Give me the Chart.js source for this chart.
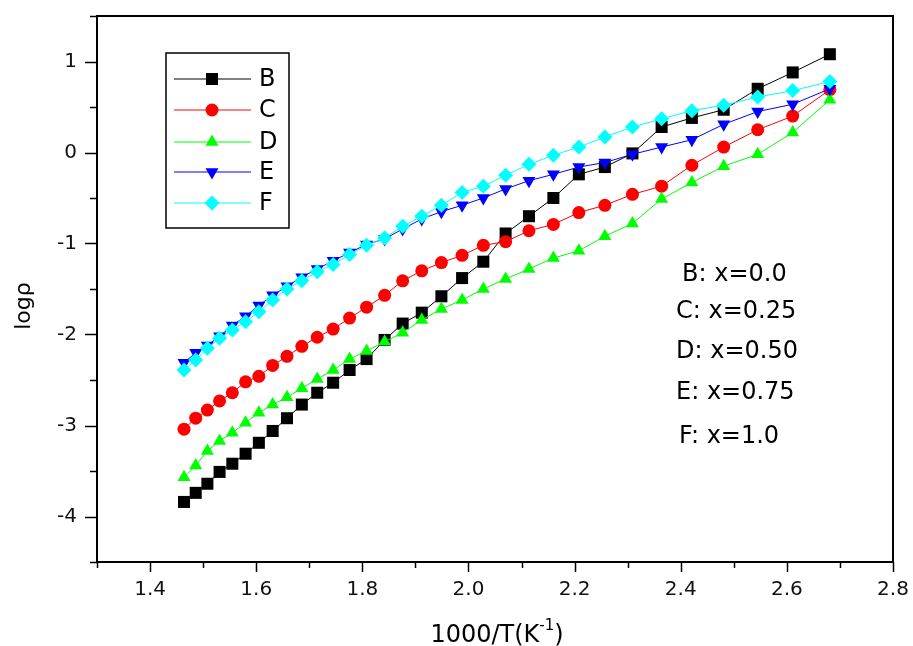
<!DOCTYPE html>
<html>
<head>
<meta charset="utf-8">
<script src="https://cdn.jsdelivr.net/npm/chart.js@4.4.0/dist/chart.umd.min.js"></script>
<style>
  html, body { margin: 0; padding: 0; background: #fff; }
  #box { width: 913px; height: 646px; }
</style>
</head>
<body>
<div id="box"><canvas id="grafico"></canvas></div>
<script>
// ---------- DADOS ----------
const invT = [1.464, 1.486, 1.508, 1.531, 1.555, 1.580, 1.605, 1.631, 1.658, 1.686, 1.715,
              1.745, 1.776, 1.808, 1.842, 1.876, 1.912, 1.949, 1.988, 2.028, 2.070, 2.114,
              2.160, 2.208, 2.257, 2.309, 2.364, 2.421, 2.481, 2.545, 2.611, 2.681];

const serieB = [-3.84, -3.74, -3.64, -3.51, -3.42, -3.31, -3.19, -3.06, -2.92, -2.77, -2.64,
                -2.53, -2.39, -2.27, -2.06, -1.88, -1.76, -1.58, -1.38, -1.20, -0.89, -0.70,
                -0.50, -0.24, -0.16, -0.01, 0.28, 0.38, 0.47, 0.70, 0.88, 1.08];
const serieC = [-3.04, -2.92, -2.83, -2.73, -2.64, -2.52, -2.46, -2.34, -2.24, -2.13, -2.03,
                -1.94, -1.82, -1.70, -1.57, -1.41, -1.30, -1.21, -1.13, -1.02, -0.98, -0.86,
                -0.79, -0.66, -0.58, -0.46, -0.37, -0.14, 0.06, 0.25, 0.40, 0.69];
const serieD = [-3.57, -3.44, -3.28, -3.17, -3.08, -2.97, -2.86, -2.77, -2.69, -2.59, -2.49,
                -2.39, -2.27, -2.18, -2.08, -1.98, -1.84, -1.72, -1.62, -1.50, -1.39, -1.28,
                -1.16, -1.08, -0.92, -0.78, -0.51, -0.33, -0.15, -0.02, 0.22, 0.58];
const serieE = [-2.31, -2.20, -2.12, -2.02, -1.90, -1.80, -1.68, -1.57, -1.47, -1.37, -1.28,
                -1.19, -1.10, -1.01, -0.95, -0.84, -0.73, -0.65, -0.58, -0.50, -0.40, -0.31,
                -0.24, -0.16, -0.11, -0.02, 0.06, 0.14, 0.31, 0.45, 0.53, 0.70];
const serieF = [-2.39, -2.28, -2.15, -2.04, -1.95, -1.86, -1.75, -1.62, -1.50, -1.41, -1.31,
                -1.23, -1.12, -1.02, -0.94, -0.81, -0.70, -0.58, -0.44, -0.37, -0.25, -0.13,
                -0.03, 0.06, 0.17, 0.28, 0.37, 0.46, 0.52, 0.61, 0.68, 0.78];

const nomes = ["B", "C", "D", "E", "F"];
const notas = ["B: x=0.0", "C: x=0.25", "D: x=0.50", "E: x=0.75", "F: x=1.0"];

const FONTE = "'DejaVu Sans', 'Liberation Sans', sans-serif";

function pontos(ys) {
    return invT.map((x, i) => ({ x: x, y: ys[i] }));
}

function serie(nome, ys, cor, estilo, raio, rot, ordem) {
    return {
        label: nome,
        data: pontos(ys),
        showLine: true,
        borderColor: cor,
        backgroundColor: cor,
        borderWidth: 1,
        pointStyle: estilo,
        pointRotation: rot,
        pointRadius: raio,
        pointHoverRadius: raio,
        pointBorderWidth: 0,
        order: ordem
    };
}

// sem folga extra das labels: a área do gráfico fica onde a gente quer
function semFolga(s) {
    s.paddingLeft = 0;
    s.paddingRight = 0;
    s.paddingTop = 0;
    s.paddingBottom = 0;
}

// ---------- moldura, ticks, legenda, textos ----------
const extras = {
    id: "extras",
    afterDraw(chart) {
        const ctx = chart.ctx;
        const a = chart.chartArea;
        const sx = chart.scales.x, sy = chart.scales.y;
        ctx.save();
        ctx.strokeStyle = "#000";
        ctx.lineWidth = 2;
        ctx.strokeRect(a.left, a.top, a.right - a.left, a.bottom - a.top);

        // ticks do eixo x (para fora)
        ctx.lineWidth = 1.5;
        for (let k = 13; k <= 28; k++) {
            const px = Math.round(sx.getPixelForValue(k / 10)) + 0.5;
            const len = k % 2 === 0 ? 10 : 6;
            ctx.beginPath();
            ctx.moveTo(px, a.bottom);
            ctx.lineTo(px, a.bottom + len);
            ctx.stroke();
        }
        // ticks do eixo y
        for (let k = -9; k <= 3; k++) {
            const py = Math.round(sy.getPixelForValue(k / 2)) + 0.5;
            const len = k % 2 === 0 ? 12 : 7;
            ctx.beginPath();
            ctx.moveTo(a.left, py);
            ctx.lineTo(a.left - len, py);
            ctx.stroke();
        }

        // legenda
        ctx.fillStyle = "#fff";
        ctx.fillRect(166, 53, 123, 175);
        ctx.lineWidth = 1.5;
        ctx.strokeStyle = "#000";
        ctx.strokeRect(166, 53, 123, 175);
        const linhasY = [79, 110, 142, 172, 203];
        chart.data.datasets.forEach((ds, i) => {
            const y = linhasY[i];
            ctx.strokeStyle = ds.borderColor;
            ctx.lineWidth = 1;
            ctx.beginPath();
            ctx.moveTo(174, y);
            ctx.lineTo(251, y);
            ctx.stroke();
            ctx.fillStyle = ds.backgroundColor;
            Chart.helpers.drawPoint(ctx, {
                pointStyle: ds.pointStyle,
                rotation: ds.pointRotation,
                radius: ds.pointRadius,
                borderWidth: 0
            }, 212, y);
            ctx.fillStyle = "#000";
            ctx.font = "24px " + FONTE;
            ctx.textAlign = "left";
            ctx.textBaseline = "middle";
            ctx.fillText(ds.label, 259, y + 1);
        });

        // anotações
        const notasY = [275, 312, 352, 393, 437];
        const notasX = [682, 676, 676, 676, 679];
        ctx.font = "24px " + FONTE;
        ctx.fillStyle = "#000";
        notas.forEach((t, i) => ctx.fillText(t, notasX[i], notasY[i]));

        // título do eixo x com expoente
        ctx.textBaseline = "alphabetic";
        const p1 = "1000/T(K", p2 = "-1", p3 = ")";
        ctx.font = "24px " + FONTE;
        const w1 = ctx.measureText(p1).width;
        const w3 = ctx.measureText(p3).width;
        ctx.font = "15px " + FONTE;
        const w2 = ctx.measureText(p2).width;
        const x0 = 497 - (w1 + w2 + w3) / 2;
        ctx.font = "24px " + FONTE;
        ctx.fillText(p1, x0, 642);
        ctx.font = "15px " + FONTE;
        ctx.fillText(p2, x0 + w1, 630);
        ctx.font = "24px " + FONTE;
        ctx.fillText(p3, x0 + w1 + w2, 642);

        // título do eixo y
        ctx.translate(24, 306);
        ctx.rotate(-Math.PI / 2);
        ctx.textAlign = "center";
        ctx.textBaseline = "middle";
        ctx.font = "22px " + FONTE;
        ctx.fillText("logρ", 0, 0);
        ctx.restore();
    }
};

new Chart(document.getElementById("grafico"), {
    type: "scatter",
    data: {
        datasets: [
            serie(nomes[0], serieB, "#000000", "rect", 8.5, 0, 5),
            serie(nomes[1], serieC, "#ff0000", "circle", 6.5, 0, 4),
            serie(nomes[2], serieD, "#00ff00", "triangle", 7.5, 0, 3),
            serie(nomes[3], serieE, "#0000ff", "triangle", 7.5, 180, 2),
            serie(nomes[4], serieF, "#00ffff", "rectRot", 7.5, 0, 1)
        ]
    },
    options: {
        responsive: true,
        maintainAspectRatio: false,
        animation: false,
        devicePixelRatio: 1,
        layout: { padding: { top: 16, right: 20, left: 0, bottom: 0 } },
        plugins: {
            legend: { display: false },
            tooltip: { enabled: false }
        },
        scales: {
            x: {
                type: "linear",
                min: 1.3,
                max: 2.8,
                grid: { display: false, drawTicks: false },
                border: { display: false },
                afterFit: (s) => { s.height = 84; semFolga(s); },
                ticks: {
                    stepSize: 0.1,
                    autoSkip: false,
                    maxRotation: 0,
                    padding: 16,
                    color: "#111",
                    font: { family: FONTE, size: 20 },
                    callback: (v) => {
                        const k = Math.round(v * 10);
                        return k % 2 === 0 ? (k / 10).toFixed(1) : "";
                    }
                }
            },
            y: {
                type: "linear",
                min: -4.5,
                max: 1.5,
                grid: { display: false, drawTicks: false },
                border: { display: false },
                afterFit: (s) => { s.width = 97; semFolga(s); },
                ticks: {
                    stepSize: 0.5,
                    autoSkip: false,
                    padding: 20,
                    color: "#111",
                    font: { family: FONTE, size: 20 },
                    callback: (v) => Number.isInteger(v) ? String(v) : ""
                }
            }
        }
    },
    plugins: [extras]
});
</script>
</body>
</html>
